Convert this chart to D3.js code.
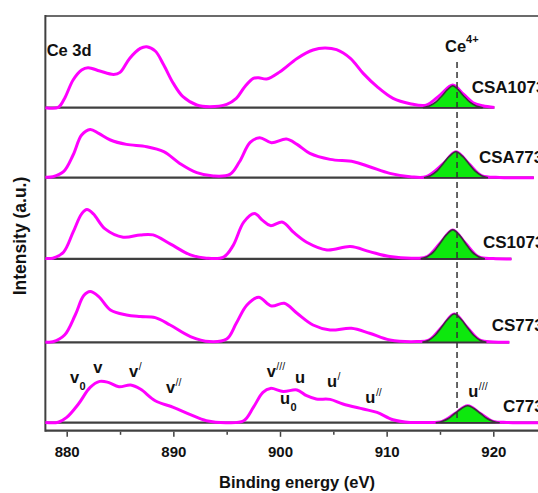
<!DOCTYPE html>
<html>
<head>
<meta charset="utf-8">
<script src="https://cdn.jsdelivr.net/npm/d3@7"></script>
<style>
  body { margin: 0; background: #fff; }
  svg text { font-family: "Liberation Sans", Arial, sans-serif; font-weight: bold; fill: #111; }
</style>
</head>
<body>
<svg id="chart"></svg>
<script>
// Ce 3d XPS spectra, one panel per sample, top to bottom
var samples = ["CSA1073", "CSA773", "CS1073", "CS773", "C773"];

// envelopes [binding energy (eV), intensity (a.u.)]
var csa1073Env = [[878,0],[879.2,0.3],[879.8,9.3],[880.6,27.7],[881.4,37.7],[882.0,40],[883.1,36.7],[884.4,33.3],[885.0,35.3],[885.9,49.3],[886.9,59.3],[887.5,61],[888.3,56.7],[889.1,42.7],[890.0,24.3],[890.9,11],[892.2,2.7],[893.4,1],[895.0,3.3],[895.9,9.3],[896.7,21],[897.5,29.3],[898.0,30],[898.75,28.7],[900.0,36],[901.6,49.3],[903.1,57.7],[904.2,59.7],[905.3,58],[906.6,49.3],[907.8,34.3],[909.1,21],[910.6,9.3],[912.2,4],[913.7,2.5],[915.0,12.6],[916.2,22.6],[917.2,13.5],[918.1,5],[919.0,2],[920.1,0.3]];
var csa773Env = [[878,0.5],[878.7,1],[879.7,6],[880.6,22.7],[881.4,42.7],[882.2,48.3],[883.0,44.3],[884.1,37.7],[885.6,33.3],[887.5,31],[889.1,26],[890.6,14.3],[892.2,5],[893.75,1.7],[895.3,3.3],[896.2,16],[897.2,35.3],[898.1,40],[899.2,35],[900.6,38.7],[901.6,33.3],[902.8,24.3],[904.7,18.3],[906.9,16],[908.4,11],[910.3,4.3],[912.2,1],[913.7,1],[915.3,14],[916.5,26],[917.7,14],[918.9,2],[920.6,0.3],[922,0],[923.8,0]];
var cs1073Env = [[878,0.5],[878.7,0.7],[879.7,6.7],[880.6,26.7],[881.4,45],[881.9,49.3],[882.5,45],[883.6,30],[885.3,21.7],[886.9,24],[888.1,24],[889.7,15],[891.6,4],[893.1,0.7],[894.7,1.7],[895.6,13.3],[896.6,36.7],[897.6,45.3],[898.4,38.3],[899.1,33.3],[900.25,36.7],[901.25,26.7],[902.5,16.7],[904.4,9],[906.6,12.3],[908.4,7.3],[910.3,2.3],[912.8,0.7],[913.8,2.2],[915.0,15.5],[916.2,29],[917.4,15.5],[918.6,2.2],[920,0.3],[921.7,0]];
var cs773Env = [[878,0.3],[878.7,0.5],[879.8,7.3],[880.8,27.3],[881.6,46.7],[882.2,50.7],[883.0,45.7],[884.1,32.3],[885.6,27.3],[886.9,25.7],[888.3,24.7],[889.7,17.3],[891.6,5.7],[893.4,0.7],[895.0,3.3],[895.9,19],[896.9,37.3],[898.0,45],[899.2,36.3],[900.4,39],[901.6,29],[903.1,17.3],[904.7,12.3],[906.7,14],[908.4,9],[910.3,2.3],[912.8,0.7],[913.95,2.1],[915.15,15],[916.35,28.3],[917.55,15],[918.75,2.1],[920,0.3],[921.5,0]];
var c773Env = [[878,0.3],[879.2,0.5],[880,5.3],[881.1,18.7],[882.2,35.3],[883.1,41.3],[883.9,40.3],[884.9,36],[886.0,37.7],[886.9,33.7],[888.3,22],[890.0,15.3],[891.6,8],[893.1,2],[895.0,0],[896.6,2],[897.5,15.3],[898.4,30.3],[899.1,34.3],[900.3,31.3],[901.6,32.7],[902.5,27],[903.4,23.7],[904.7,23.3],[905.9,18.7],[907.8,13.7],[909.1,10.3],[910.6,3],[912.2,0.3],[913.6,0.3],[915.2,1.3],[916.4,9.2],[917.6,17],[918.8,9.2],[920.0,1.3],[921.25,0.3],[922.5,0],[924.4,0]];

// fitted Ce4+ (u''') component
var csa1073Peak = [[913.4,0],[914.0,1.8],[914.6,5.5],[915.2,12],[915.7,18],[916.2,22],[916.7,18],[917.2,12],[917.8,5.5],[918.4,1.8],[919.0,0]];
var csa773Peak = [[913.5,0],[914.1,2],[914.7,6.5],[915.3,14],[915.9,21.5],[916.5,26],[917.1,21.5],[917.7,14],[918.3,6.5],[918.9,2],[919.5,0]];
var cs1073Peak = [[913.2,0],[913.8,2.2],[914.4,7],[915.0,15.5],[915.6,24],[916.2,29],[916.8,24],[917.4,15.5],[918.0,7],[918.6,2.2],[919.2,0]];
var cs773Peak = [[913.35,0],[913.95,2.1],[914.55,7],[915.15,15],[915.75,23.3],[916.35,28.3],[916.95,23.3],[917.55,15],[918.15,7],[918.75,2.1],[919.35,0]];
var c773Peak = [[914.6,0],[915.2,1.3],[915.8,4.2],[916.4,9.2],[917.0,14],[917.6,17],[918.2,14],[918.8,9.2],[919.4,4.2],[920.0,1.3],[920.6,0]];

var envelopes = [csa1073Env, csa773Env, cs1073Env, cs773Env, c773Env];
var peaks = [csa1073Peak, csa773Peak, cs1073Peak, cs773Peak, c773Peak];

var majorTicks = [880, 890, 900, 910, 920];
var minorTicks = [885, 895, 905, 915];
var ce4Line = 916.6;

// peak assignment labels on C773: [main, sub/sup, kind, energy, height]
var peakNames = [["v", "0", "sub", 880.3, 39.4], ["v", "", "", 882.5, 50], ["v", "/", "sup", 885.85, 45.4],
  ["v", "//", "sup", 889.3, 29.4], ["v", "///", "sup", 898.75, 46], ["u", "", "", 901.4, 40],
  ["u", "0", "sub", 900.0, 18.4], ["u", "/", "sup", 904.4, 36], ["u", "//", "sup", 908.0, 19.4],
  ["u", "///", "sup", 917.65, 26]];

// ---- layout ----
var W = 538, H = 493;
var panelBase = [315, 245, 163.8, 80.4, 0];      // stacking offsets (a.u.)
var labelX = [471.7, 479, 483, 491.7, 503];
var labelLift = [14.7, 14.7, 10.5, 11.8, 11.2];

var svg = d3.select('#chart').attr('width', W).attr('height', H);

var x = d3.scaleLinear().domain([880, 920]).range([66.7, 493.3]);
var y = d3.scaleLinear().domain([0, 100]).range([422.7, 322.7]);
var xLeft = 878, axisY = 430.6, topY = 16;

var line = d3.line()
  .x(function (d) { return x(d[0]); })
  .curve(d3.curveCatmullRom.alpha(0.5));

var area = d3.area()
  .x(function (d) { return x(d[0]); })
  .curve(d3.curveCatmullRom.alpha(0.5));

// frame
svg.append('line').attr('x1', x(xLeft)).attr('x2', W + 5).attr('y1', topY).attr('y2', topY)
  .attr('stroke', '#6b6b6b').attr('stroke-width', 2);
svg.append('line').attr('x1', x(xLeft)).attr('x2', W + 5).attr('y1', axisY).attr('y2', axisY)
  .attr('stroke', '#404040').attr('stroke-width', 2.4);
svg.append('line').attr('x1', x(xLeft)).attr('x2', x(xLeft)).attr('y1', topY - 1).attr('y2', axisY + 1.2)
  .attr('stroke', '#404040').attr('stroke-width', 2);

// panels
samples.forEach(function (name, i) {
  var off = panelBase[i];
  var env = envelopes[i];
  var g = svg.append('g');
  g.append('line')
    .attr('x1', x(xLeft)).attr('x2', x(env[env.length - 1][0]))
    .attr('y1', y(off)).attr('y2', y(off))
    .attr('stroke', '#404040').attr('stroke-width', 2.2);
  g.append('path').datum(env)
    .attr('d', line.y(function (d) { return y(off + d[1]); }))
    .attr('fill', 'none').attr('stroke', '#ff00ff').attr('stroke-width', 3);
  g.append('path').datum(peaks[i])
    .attr('d', area.y0(y(off)).y1(function (d) { return y(off + d[1]); }))
    .attr('fill', '#0de80d').attr('stroke', '#3d303d').attr('stroke-width', 1.6);
  g.append('text')
    .attr('x', labelX[i]).attr('y', y(off) - labelLift[i])
    .style('font-size', '17px')
    .text(name);
});

// Ce4+ reference line
svg.append('line')
  .attr('x1', x(ce4Line)).attr('x2', x(ce4Line))
  .attr('y1', 62).attr('y2', y(0))
  .attr('stroke', '#333').attr('stroke-width', 1.5).attr('stroke-dasharray', '6,4');

var ce4 = svg.append('text').attr('x', 445).attr('y', 51.7).style('font-size', '16.5px');
ce4.append('tspan').text('Ce');
ce4.append('tspan').attr('dy', -8.5).style('font-size', '11px').text('4+');

svg.append('text').attr('x', 46.7).attr('y', 55.7).style('font-size', '16.5px').text('Ce 3d');

// peak names
peakNames.forEach(function (p) {
  var t = svg.append('text')
    .attr('x', x(p[3])).attr('y', y(p[4]))
    .style('font-size', '16.5px');
  t.append('tspan').text(p[0]);
  if (p[1]) {
    t.append('tspan')
      .attr('dy', p[2] === 'sub' ? 7 : -7)
      .attr('dx', 0.5)
      .style('font-size', p[2] === 'sub' ? '11px' : '10.5px')
      .style('font-weight', p[2] === 'sub' ? 'bold' : 'normal')
      .text(p[1]);
  }
});

// x axis ticks
var axisG = svg.append('g').attr('transform', 'translate(0,' + (axisY + 1.2) + ')');
axisG.call(d3.axisBottom(x).tickValues(majorTicks).tickSize(5).tickFormat(d3.format('d')));
var minorG = svg.append('g').attr('transform', 'translate(0,' + (axisY + 1.2) + ')');
minorG.call(d3.axisBottom(x).tickValues(minorTicks).tickSize(3).tickFormat(''));
svg.selectAll('.domain').remove();
svg.selectAll('.tick line').attr('stroke', '#404040').attr('stroke-width', 1.5);
axisG.selectAll('.tick text')
  .attr('y', 0).attr('dy', null)
  .attr('transform', 'translate(0,25)')
  .style('font-size', '15px').style('font-family', '"Liberation Sans", Arial, sans-serif')
  .style('font-weight', 'bold').attr('fill', '#111');

// axis titles
svg.append('text')
  .attr('x', 297).attr('y', 488)
  .attr('text-anchor', 'middle').style('font-size', '16.5px')
  .text('Binding energy (eV)');
svg.append('text')
  .attr('transform', 'translate(26,236) rotate(-90)')
  .attr('text-anchor', 'middle').style('font-size', '17.5px')
  .text('Intensity (a.u.)');
</script>
</body>
</html>
